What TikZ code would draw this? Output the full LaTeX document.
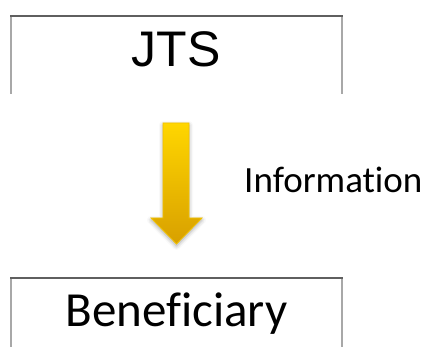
\documentclass[tikz,border=0pt]{standalone}
\usepackage{fontspec}
\setmainfont[Ligatures=NoCommon]{Carlito}
\newfontfamily\arialfont{Liberation Sans}
\usetikzlibrary{shadows.blur}
\definecolor{edgetop}{HTML}{5F5F5F}
\definecolor{edgeside}{HTML}{A8A8A8}
\definecolor{arrowtop}{HTML}{FFD600}
\definecolor{arrowbot}{HTML}{D8A000}
\definecolor{arrowedge}{HTML}{F2C200}
\tikzset{
  boxtop/.style={draw=edgetop, line width=2pt},
  boxside/.style={draw=edgeside, line width=2.6pt},
  label/.style={inner sep=0pt},
  flowarrow/.style={top color=arrowtop, bottom color=arrowbot, draw=arrowedge, line width=0.8pt,
    blur shadow={shadow xshift=0pt, shadow yshift=-2pt, shadow blur radius=4pt, shadow opacity=35}}
}
\begin{document}
\begin{tikzpicture}[x=1pt,y=1pt]
  \useasboundingbox (0,0) rectangle (428,347);
  \begin{scope}
    \clip (0,0) rectangle (428,347);
    % upper box, open at the bottom
    \draw[boxside] (11,331) -- (11,253);
    \draw[boxside] (342,331) -- (342,253);
    \draw[boxtop] (10,331) -- (343,331);
    % lower box, running off the page
    \draw[boxside] (11,69) -- (11,-5);
    \draw[boxside] (342,69) -- (342,-5);
    \draw[boxtop] (10,69) -- (343,69);
  \end{scope}
  \node[label, anchor=base] (jts) at (176,280) {\arialfont\fontsize{50}{60}\selectfont JTS};
  \node[label, anchor=base] (ben) at (176.5,20) {\fontsize{49}{58}\selectfont Beneficiary};
  % downward arrow
  \path[flowarrow] (163,224) -- (189,224) -- (189,129) -- (202,129) -- (176.5,103)
    -- (151,129) -- (163,129) -- cycle;
  \node[label, anchor=base west] (info) at (244,154) {\fontsize{37}{44}\selectfont Information};
\end{tikzpicture}
\end{document}
